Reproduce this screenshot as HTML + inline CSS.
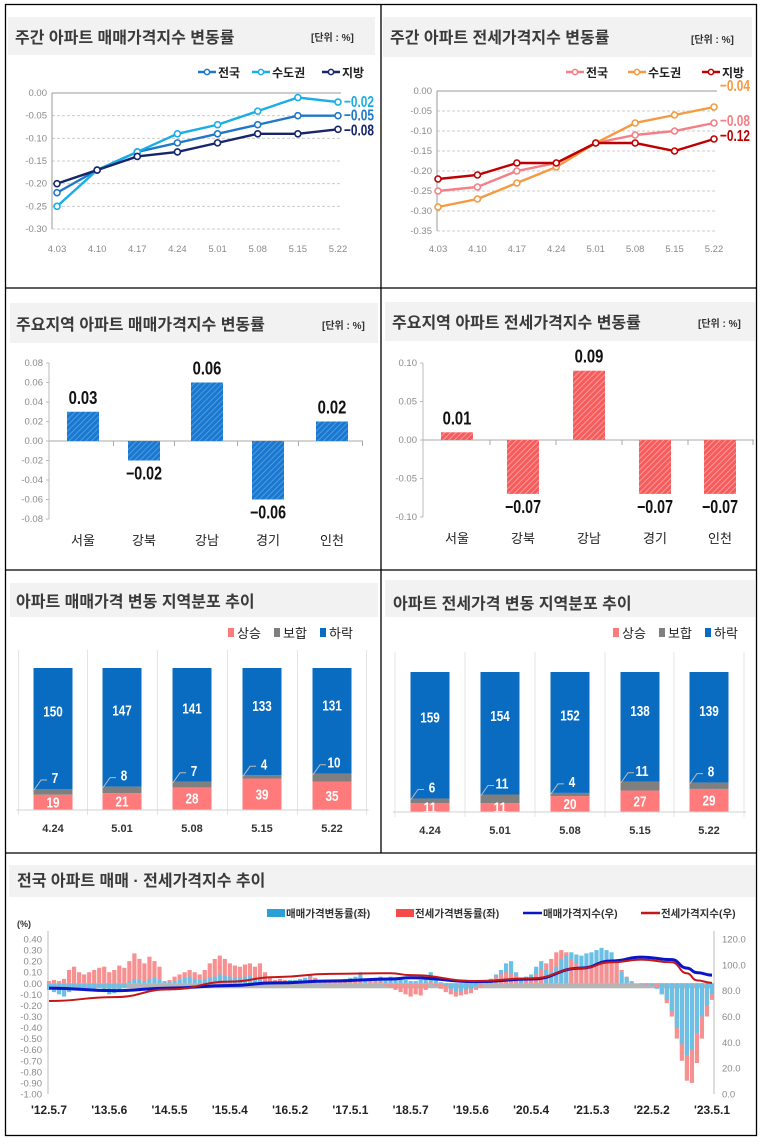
<!DOCTYPE html>
<html><head><meta charset="utf-8"><style>
html,body{margin:0;padding:0;background:#fff}
svg{display:block}
text{font-family:"Liberation Sans","Noto Sans CJK KR",sans-serif}
.t{font-size:16px;font-weight:bold;fill:#3a3a3a}
.u{font-size:10px;font-weight:bold;fill:#333}
.ax{font-size:9.5px;fill:#8a8a8a}
.lg{font-size:12px;fill:#222;font-weight:bold}
</style></head><body>
<svg id="chart" width="761" height="1144" viewBox="0 0 761 1144" xmlns="http://www.w3.org/2000/svg">
<defs>
<pattern id="hb" width="4" height="4" patternUnits="userSpaceOnUse" patternTransform="rotate(45)"><rect width="4" height="4" fill="#1a78d0"/><rect width="1" height="4" fill="#4d9be0"/></pattern>
<pattern id="hr" width="4" height="4" patternUnits="userSpaceOnUse" patternTransform="rotate(45)"><rect width="4" height="4" fill="#f65c5c"/><rect width="1" height="4" fill="#fb9a9a"/></pattern>
</defs>
<g fill="none" stroke="#000" stroke-width="1.3">
<rect x="5.5" y="4.5" width="751" height="1131"/>
<line x1="381" y1="4" x2="381" y2="853"/>
<line x1="5" y1="288" x2="757" y2="288"/>
<line x1="5" y1="570" x2="757" y2="570"/>
<line x1="5" y1="853" x2="757" y2="853"/>
</g>
<g fill="#f2f2f2">
<rect x="8" y="17" width="367" height="38"/><rect x="383" y="17" width="369" height="40"/>
<rect x="10" y="303" width="368" height="40"/><rect x="385" y="302" width="370" height="39"/>
<rect x="10" y="583" width="368" height="34"/><rect x="385" y="580" width="370" height="37"/>
<rect x="9" y="865" width="746" height="32"/>
</g>
<text class="t" x="15" y="43">주간 아파트 매매가격지수 변동률</text>
<text class="u" x="311" y="41">[단위 : %]</text>
<text class="t" x="390" y="43">주간 아파트 전세가격지수 변동률</text>
<text class="u" x="691" y="43">[단위 : %]</text>
<text class="t" x="16" y="330">주요지역 아파트 매매가격지수 변동률</text>
<text class="u" x="322" y="329">[단위 : %]</text>
<text class="t" x="392" y="328">주요지역 아파트 전세가격지수 변동률</text>
<text class="u" x="698" y="327">[단위 : %]</text>
<text class="t" x="16" y="607">아파트 매매가격 변동 지역분포 추이</text>
<text class="t" x="393" y="609">아파트 전세가격 변동 지역분포 추이</text>
<text class="t" x="17" y="886">전국 아파트 매매 · 전세가격지수 추이</text>
<g id="g"></g>
</svg>
<script>
// ---- chart 1/2 data ----
const weeks = ["4.03","4.10","4.17","4.24","5.01","5.08","5.15","5.22"];
const saleNation = [-0.22,-0.17,-0.13,-0.11,-0.09,-0.07,-0.05,-0.05];
const saleCapital = [-0.25,-0.17,-0.13,-0.09,-0.07,-0.04,-0.01,-0.02];
const saleLocal = [-0.20,-0.17,-0.14,-0.13,-0.11,-0.09,-0.09,-0.08];
const jeonNation = [-0.25,-0.24,-0.20,-0.18,-0.13,-0.11,-0.10,-0.08];
const jeonCapital = [-0.29,-0.27,-0.23,-0.19,-0.13,-0.08,-0.06,-0.04];
const jeonLocal = [-0.22,-0.21,-0.18,-0.18,-0.13,-0.13,-0.15,-0.12];
const lineTicks1 = [0,-0.05,-0.10,-0.15,-0.20,-0.25,-0.30];
const lineTicks2 = [0,-0.05,-0.10,-0.15,-0.20,-0.25,-0.30,-0.35];
// ---- chart 3/4 data ----
const regions = ["서울","강북","강남","경기","인천"];
const regionSale = [0.03,-0.02,0.06,-0.06,0.02];
const regionJeonse = [0.01,-0.07,0.09,-0.07,-0.07];
const barTicks3 = [0.08,0.06,0.04,0.02,0,-0.02,-0.04,-0.06,-0.08];
const barTicks4 = [0.10,0.05,0,-0.05,-0.10];
// ---- chart 5/6 data ----
const distWeeks = ["4.24","5.01","5.08","5.15","5.22"];
const saleRise = [19,21,28,39,35];
const saleHold = [7,8,7,4,10];
const saleFall = [150,147,141,133,131];
const jeonRise = [11,11,20,27,29];
const jeonHold = [6,11,4,11,8];
const jeonFall = [159,154,152,138,139];
// ---- chart 7 data (monthly 2012.5 - 2023.5) ----
const saleChange = [-0.06,-0.08,-0.10,-0.12,-0.08,-0.06,-0.05,-0.04,-0.06,-0.05,-0.04,-0.08,-0.10,-0.09,-0.06,-0.04,
0.02,0.04,0.03,0.02,0.04,0.05,0.03, 0.01,0.01, 0.02,0.03,0.05,0.06,0.04,0.03,0.04,
0.05,0.06,0.08,0.07,0.06,0.05,0.05,0.06,0.07,0.05, 0.04,0.02,0.01,0.01,
0.02,0.02,0.03,0.03,0.04,0.05,0.08,0.04,0.02,0.03,0.03,0.02,
0.03,0.04,0.05,0.06,0.10,0.03,0.04,0.05,0.06,0.04, 0.06,0.05,0.04,0.03,0.02,0.02,0.03,0.05, 0.10,
0.04,0.01,-0.02,-0.05,-0.07,-0.08,-0.06,-0.05,-0.03,-0.01, 0.02,0.04,0.08,0.12,0.18,0.20,0.10, 0.05,0.06,0.08,
0.15,0.20,0.12,0.10,0.15,0.22, 0.25,0.28,0.26,0.25,0.27,0.28,0.30,0.32, 0.30,0.28,0.20,0.10,0.05,
0.01,0.0,-0.01,-0.01,-0.02,-0.05, -0.10,-0.15,-0.25,-0.40,-0.55,-0.65,-0.60,-0.45,-0.30,-0.20,-0.10];
const jeonseChange = [0.02,0.03,0.02,0.04, 0.12,0.15,0.10,0.08,0.10,0.12,0.14,0.15,0.10,0.12,0.16,0.14,
0.20,0.27,0.22,0.18,0.24,0.20,0.15, 0.02,0.03, 0.06,0.08,0.10,0.12,0.10,0.08,0.12,
0.18,0.22,0.25,0.22,0.18,0.16,0.15,0.17,0.18,0.15, 0.18,0.10,0.06,0.03,
0.04,0.03,0.02,0.03,0.02,0.02,0.06,0.05,0.03,0.02,0.02,0.01,
0.02,0.01,0.01,0.02,0.01,0.0,0.02,0.01,0.01,-0.02, -0.04,-0.06,-0.08,-0.10,-0.12,-0.10,-0.11,-0.06, 0.01,
-0.02,-0.05,-0.08,-0.10,-0.12,-0.11,-0.10,-0.09,-0.06,-0.04, 0.02,0.04,0.06,0.08,0.10,0.09,0.07, 0.05,0.04,0.05,
0.08,0.12,0.18,0.22,0.28,0.30, 0.28,0.22,0.18,0.15,0.14,0.15,0.17,0.18, 0.20,0.22,0.18,0.12,0.06,
0.02,0.0,-0.01,-0.02,-0.02,-0.04, -0.10,-0.18,-0.30,-0.50,-0.70,-0.88,-0.90,-0.72,-0.50,-0.30,-0.15];
const indexMonths = [0,13,24,36,45,56,68,72,85,96,106,112,118,124,127,129,132];
const saleIndex = [82,80,82,84,86,87.5,89,90,87,89,97.5,103,106,104,97.5,94,92];
const jeonseIndex = [72,75,81,87,90.5,93,93.5,92,87.5,89.5,97.5,102,104,102,93.5,88,86];
const leftTicks = [0.4,0.3,0.2,0.1,0,-0.1,-0.2,-0.3,-0.4,-0.5,-0.6,-0.7,-0.8,-0.9,-1.0];
const rightTicks = [120,100,80,60,40,20,0];
const dateLabels = ["'12.5.7","'13.5.6","'14.5.5","'15.5.4","'16.5.2","'17.5.1","'18.5.7","'19.5.6","'20.5.4","'21.5.3","'22.5.2","'23.5.1"];

const NS="http://www.w3.org/2000/svg", G=document.getElementById('g');
function mk(tag,a,txt){const e=document.createElementNS(NS,tag);for(const k in a)e.setAttribute(k,a[k]);if(txt!==undefined)e.textContent=txt;G.appendChild(e);return e;}
function narrow(e,w){e.setAttribute('textLength',w);e.setAttribute('lengthAdjust','spacingAndGlyphs');}

// ---------- line charts ----------
function lineChart(x0,x1,y0,y1,ymin,ticks,series,colors,names,lblY,legendX,axisX,labelOffsets){
  const sx=i=>x0+(x1-x0)*i/(weeks.length-1);
  const sy=v=>y0+(y1-y0)*(v/ymin);
  ticks.forEach((t,i)=>{
    let l=mk('line',{x1:axisX,x2:x1+3,y1:sy(t),y2:sy(t),stroke:i==0?'#999':'#ccc','stroke-dasharray':i==0?'':'3,2'});
    
    
    let tx=mk('text',{x:axisX-5,y:sy(t)+3,'text-anchor':'end',class:'ax'},t.toFixed(2));
    
    
  });
  let ax=mk('line',{x1:axisX,x2:axisX,y1:y0,y2:sy(ymin),stroke:'#999'});
  
  
  weeks.forEach((w,i)=>{
    let tx=mk('text',{x:sx(i),y:lblY,'text-anchor':'middle',class:'ax'},w);
    
    
  });
  series.forEach((s,k)=>{
    let p=mk('polyline',{points:s.map((v,i)=>sx(i)+','+sy(v)).join(' '),fill:'none',stroke:colors[k],'stroke-width':2.4});
    
    
    s.forEach((v,i)=>{
      let c=mk('circle',{cx:sx(i),cy:sy(v),r:3,fill:'#fff',stroke:colors[k],'stroke-width':1.6});
      
      
    });
    const last=s[s.length-1];
    let tx=mk('text',{x:sx(s.length-1)+6,y:sy(last)+labelOffsets[k],fill:colors[k],'font-size':'16','font-weight':'bold'},last.toFixed(2).replace('-','−'));
    narrow(tx,30);
    
    
    const lx=legendX[k];
    let ll=mk('line',{x1:lx,x2:lx+18,y1:72,y2:72,stroke:colors[k],'stroke-width':2.4});
    
    
    let lc=mk('circle',{cx:lx+9,cy:72,r:2.6,fill:'#fff',stroke:colors[k],'stroke-width':1.5});
    
    
    let lt=mk('text',{x:lx+20,y:77,class:'lg','font-size':'13'},names[k]);
    
    
  });
}
lineChart(57,338,93,229,-0.30,lineTicks1,[saleNation,saleCapital,saleLocal],['#1f78c8','#1aaee8','#16266a'],['전국','수도권','지방'],252,[198,252,322],52,[5,5,6]);
lineChart(438,714,91,231,-0.35,lineTicks2,[jeonNation,jeonCapital,jeonLocal],['#f47f86','#f59a42','#c00000'],['전국','수도권','지방'],252,[566,628,702],437,[3,-16,2]);

// ---------- bar charts ----------
function barChart(xs,axisX,xEnd,yTop,yBot,tmax,ticks,vals,fill,prec,dn){
  const sy=v=>yTop+(yBot-yTop)*(tmax-v)/(2*tmax);
  ticks.forEach(t=>{
    let tx=mk('text',{x:axisX-6,y:sy(t)+3,'text-anchor':'end',class:'ax','font-size':'9.5'},t.toFixed(2));
    
    
    let tk=mk('line',{x1:axisX-3,x2:axisX,y1:sy(t),y2:sy(t),stroke:'#bbb'});
    
    
  });
  let ay=mk('line',{x1:axisX,x2:axisX,y1:yTop,y2:yBot,stroke:'#bbb'});
  
  
  let ax=mk('line',{x1:axisX,x2:xEnd,y1:sy(0),y2:sy(0),stroke:'#aaa'});
  
  
  const step=xs[1]-xs[0];
  xs.forEach((cx,i)=>{
    let tk=mk('line',{x1:cx+step/2,x2:cx+step/2,y1:sy(0),y2:sy(0)+5,stroke:'#aaa'});
    
    
    const v=vals[i],y=sy(Math.max(v,0)),h=Math.abs(sy(v)-sy(0));
    let b=mk('rect',{x:cx-16,y:y,width:32,height:h,fill:fill});
    
    
    const s=v.toFixed(prec).replace('-','−');
    let vt=mk('text',{x:cx,y:v>=0?sy(v)-8:sy(v)+19,'text-anchor':'middle','font-size':'18','font-weight':'bold',fill:'#111'},s);
    narrow(vt,s.length*7.2);
    
    
    let ct=mk('text',{x:cx,y:dn,'text-anchor':'middle','font-size':'13',fill:'#222'},regions[i]);
    
    
  });
}
barChart([83,144,207,268,332],49,363,363,519,0.08,barTicks3,regionSale,'url(#hb)',2,545);
barChart([457,523,589,655,720],423,754,363,517,0.10,barTicks4,regionJeonse,'url(#hr)',2,543);

// ---------- stacked distribution ----------
function stack(xs,base,topPx,rise,hold,fall,legendR){
  const k=(base-topPx)/176;
  const step=xs[1]-xs[0];
  xs.forEach((cx,i)=>{
    let d=mk('line',{x1:cx-step/2,x2:cx-step/2,y1:base-160,y2:base+5,stroke:'#e4e4e4'});
    
    
    if(i==xs.length-1){let d2=mk('line',{x1:cx+step/2,x2:cx+step/2,y1:base-160,y2:base+5,stroke:'#e4e4e4'});}
    const hr=rise[i]*k,hh=hold[i]*k,hf=fall[i]*k;
    let r=mk('rect',{x:cx-19.5,y:base-hr,width:39,height:hr,fill:'#ff7b7b'});
    
    
    let g=mk('rect',{x:cx-19.5,y:base-hr-hh,width:39,height:hh,fill:'#7f7f7f'});
    
    
    let f=mk('rect',{x:cx-19.5,y:base-hr-hh-hf,width:39,height:hf,fill:'#0a6cc0'});
    
    
    let t1=mk('text',{x:cx,y:base-hr/2+5,'text-anchor':'middle','font-size':'15','font-weight':'bold',fill:'#fff'},rise[i]);
    narrow(t1,String(rise[i]).length*6.5);
    
    
    let t3=mk('text',{x:cx,y:base-hr-hh-hf*0.6,'text-anchor':'middle','font-size':'15','font-weight':'bold',fill:'#fff'},fall[i]);
    narrow(t3,String(fall[i]).length*6.5);
    
    
    const gy=base-hr-hh;
    let t2=mk('text',{x:cx+2,y:gy-6,'text-anchor':'middle','font-size':'15','font-weight':'bold',fill:'#fff'},hold[i]);
    narrow(t2,String(hold[i]).length*6.5);
    
    
    let lead=mk('polyline',{points:(cx-19)+','+(gy+1)+' '+(cx-12)+','+(gy-9)+' '+(cx-6)+','+(gy-9),fill:'none',stroke:'#bbb','stroke-width':1});
    
    
    let xl=mk('text',{x:cx,y:base+22,'text-anchor':'middle','font-size':'11','font-weight':'bold',fill:'#333'},distWeeks[i]);
    
    
  });
  let ax=mk('line',{x1:xs[0]-step/2-2,x2:xs[xs.length-1]+step/2+2,y1:base,y2:base,stroke:'#d0d0d0'});
  
  
  [['상승','#ff7b7b'],['보합','#7f7f7f'],['하락','#0a6cc0']].forEach((e,j)=>{
    const lx=legendR-132+j*46;
    let s=mk('rect',{x:lx,y:628,width:6,height:9,fill:e[1]});
    
    
    let t=mk('text',{x:lx+9,y:638,'font-size':'13',fill:'#222'},e[0]);
    
    
  });
}
stack([53,122,192,262,332],810,668,saleRise,saleHold,saleFall,360);
stack([430,500,570,640,709],812,672,jeonRise,jeonHold,jeonFall,745);

// ---------- long-term chart ----------
(function(){
  const X0=49,X1=712,AX=48,AR=714,YT=939,YB=1094;
  const sx=m=>X0+(X1-X0)*m/132;
  const syL=v=>YT+(0.4-v)/1.4*(YB-YT);
  const syR=v=>YB-v/120*(YB-YT);
  leftTicks.forEach(t=>{
    let tx=mk('text',{x:42,y:syL(t)+3.5,'text-anchor':'end',class:'ax','font-size':'10'},t.toFixed(2));
    
    
  });
  rightTicks.forEach(t=>{
    let tx=mk('text',{x:722,y:syR(t)+3.5,class:'ax','font-size':'10'},t.toFixed(1));
    
    
  });
  let a1=mk('line',{x1:AX,x2:AX,y1:YT-8,y2:YB,stroke:'#bbb'});
  
  
  let a2=mk('line',{x1:AR,x2:AR,y1:YT-8,y2:YB,stroke:'#bbb'});
  
  
  let zb=mk('rect',{x:AX,y:syL(0),width:AR-AX-4,height:5,fill:'#b5b5b5'});
  
  
  const z=syL(0);
  for(let m=0;m<=132;m++){
    const vr=jeonseChange[m],vb=saleChange[m];
    const draw=(v,c,nm)=>{const y=syL(v);let b=mk('rect',{x:sx(m)-2.1,y:Math.min(y,z),width:4.2,height:Math.abs(y-z),fill:c});};
    if(Math.abs(vb)>Math.abs(vr)){draw(vb,'#6cc0e6','bar-sale-change');draw(vr,'#f79090','bar-jeonse-change');}
    else{draw(vr,'#f79090','bar-jeonse-change');draw(vb,'#6cc0e6','bar-sale-change');}
  }
  const path=arr=>{const pts=indexMonths.map((m,i)=>[sx(m),syR(arr[i])]);let d='M'+pts[0];for(let i=1;i<pts.length;i++){const p0=pts[i-1],p1=pts[i],mx=(p0[0]+p1[0])/2;d+=' C'+mx+','+p0[1]+' '+mx+','+p1[1]+' '+p1[0]+','+p1[1];}return d;};
  let ls=mk('path',{d:path(saleIndex),fill:'none',stroke:'#0a14c8','stroke-width':3});
  
  
  let lj=mk('path',{d:path(jeonseIndex),fill:'none',stroke:'#c41818','stroke-width':2});
  
  
  dateLabels.forEach((d,i)=>{
    let tx=mk('text',{x:sx(i*12),y:1114,'text-anchor':'middle','font-size':'12','font-weight':'bold',fill:'#222'},d);
    narrow(tx,36);
    
    
  });
  let pu=mk('text',{x:17,y:927,'font-size':'9','font-weight':'bold',fill:'#333'},'(%)');
  
  
  const L=[[267,'rect','#2ba0d8','매매가격변동률(좌)'],[396,'rect','#f54a4a','전세가격변동률(좌)'],[523,'line','#0a14c8','매매가격지수(우)'],[641,'line','#c41818','전세가격지수(우)']];
  L.forEach(e=>{
    let s=e[1]=='rect'?mk('rect',{x:e[0],y:909,width:18,height:8,fill:e[2]}):mk('line',{x1:e[0],x2:e[0]+19,y1:913,y2:913,stroke:e[2],'stroke-width':2.5});
    
    
    let t=mk('text',{x:e[0]+(e[1]=='rect'?19:20),y:917,'font-size':'10.5','font-weight':'bold',fill:'#333'},e[3]);
    
    
  });
})();
</script>
</body></html>
